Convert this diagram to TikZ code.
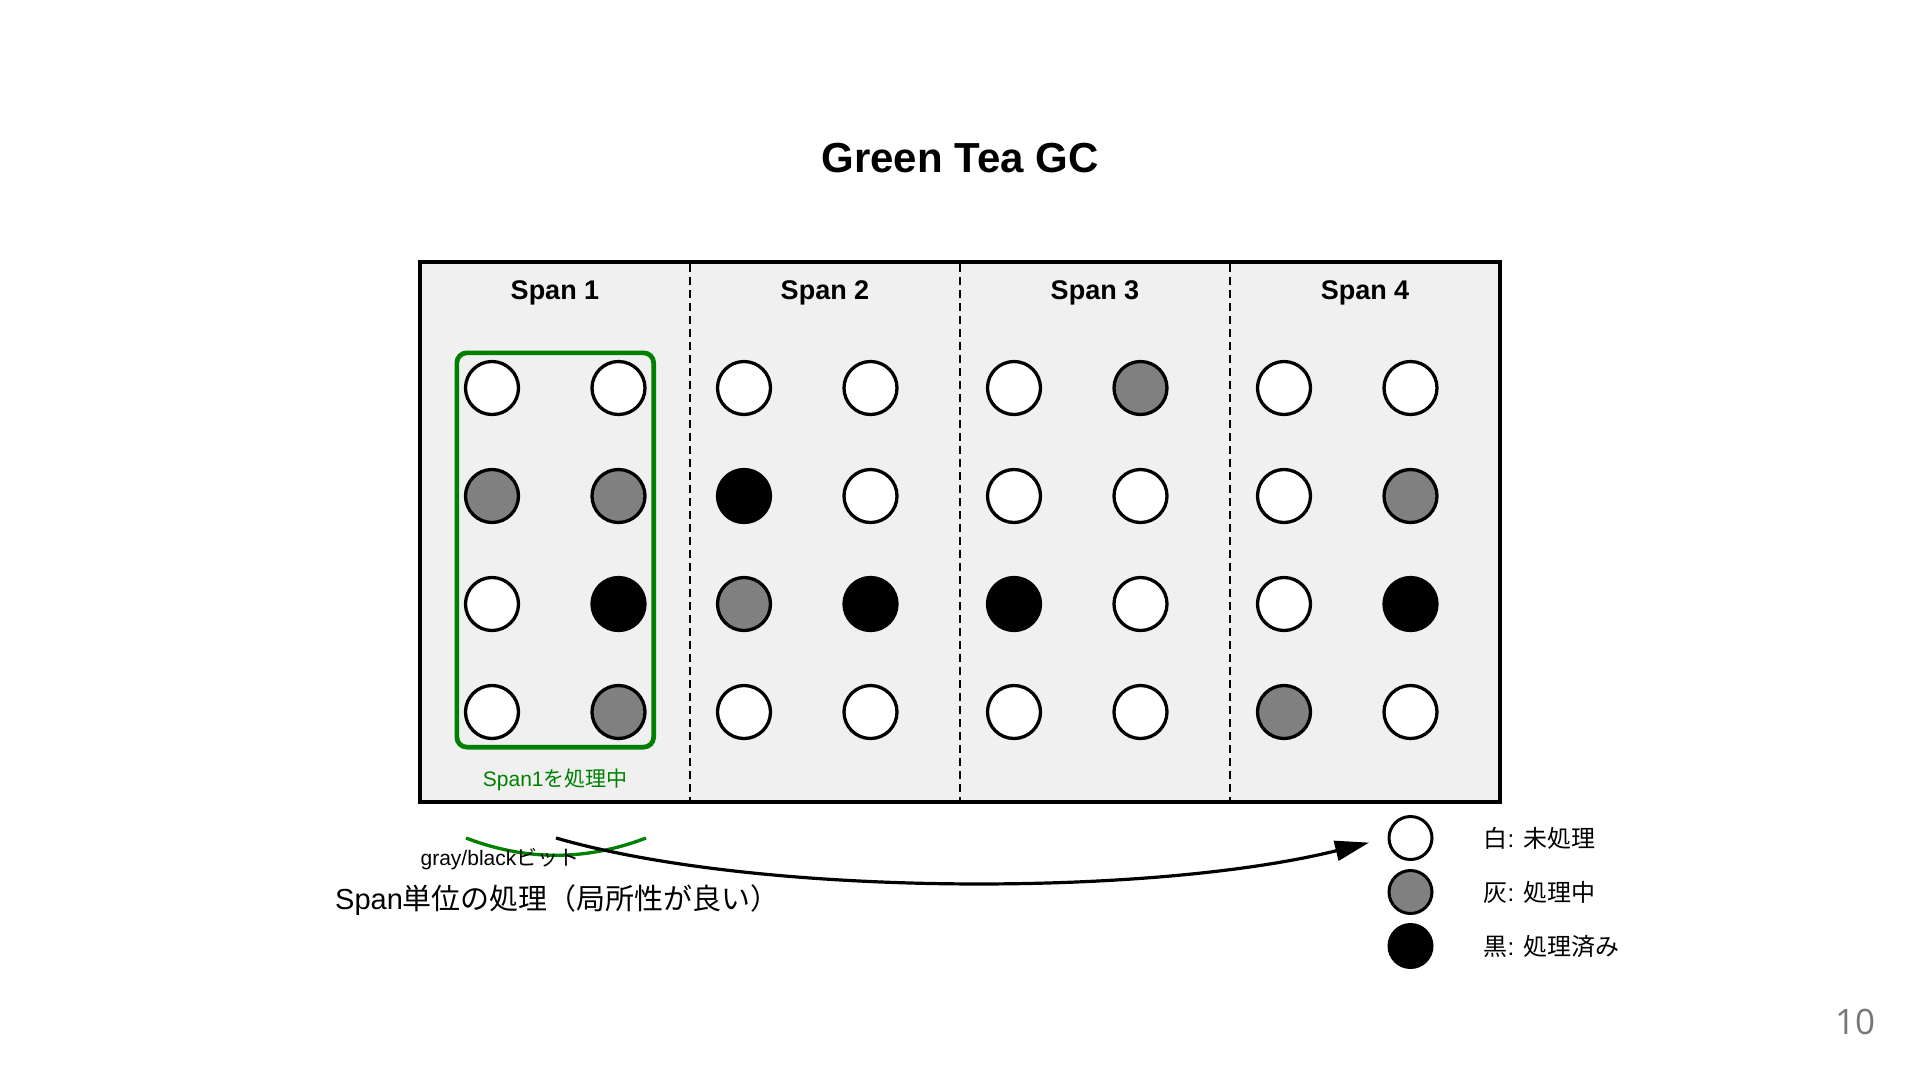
\documentclass[tikz,border=0pt]{standalone}
\usepackage{fontspec}
\setmainfont{Liberation Sans}
\newfontfamily\jp{Noto Sans CJK JP}
\newfontfamily\pagenumfont{Open Sans}
\usepackage{xcolor}
\usetikzlibrary{arrows.meta, positioning, fit}

\definecolor{spanbg}{HTML}{F0F0F0}
\definecolor{markgreen}{HTML}{008000}
\definecolor{objgray}{HTML}{808080}
\definecolor{pagegray}{HTML}{777777}

\newcommand{\fsz}[1]{\fontsize{#1pt}{#1pt}\selectfont}

\tikzset{
    obj/.style={circle, draw=black, line width=3.3pt, minimum size=53pt, inner sep=0pt},
    legobj/.style={circle, draw=black, line width=3pt, minimum size=43pt, inner sep=0pt},
    legtxt/.style={anchor=west, inner sep=0pt, font=\fsz{24}},
    activebox/.style={draw=markgreen, line width=4.7pt, rounded corners=10pt, inner sep=7pt},
}

\begin{document}
\begin{tikzpicture}[x=1pt, y=-1pt]
    \useasboundingbox (0,0) rectangle (1920,1080);
    \node[font=\fsz{42}\bfseries] (title) at (960,158) {Green Tea GC};

    % heap with four spans
    \draw[line width=3.3pt, fill=spanbg] (420,262) rectangle (1500,802);
    \foreach \x in {690,960,1230}
        \draw[line width=2pt, dash pattern=on 8pt off 5pt] (\x,264) -- (\x,800);
    \foreach \s in {1,...,4} {
        \node[font=\fsz{27}\bfseries] (span\s) at ({285+270*\s}, 293) {Span \s};
    }

    % objects: row by row, left and right column
    \foreach \s/\sx/\fills in {
        1/492/{white,white,objgray,objgray,white,black,white,objgray},
        2/744/{white,white,black,white,objgray,black,white,white},
        3/1014/{white,objgray,white,white,black,white,white,white},
        4/1284/{white,white,white,objgray,white,black,objgray,white}} {
        \foreach \f [count=\i from 0] in \fills {
            \pgfmathtruncatemacro{\row}{\i/2}
            \pgfmathtruncatemacro{\col}{mod(\i,2)}
            \node[obj, fill=\f] (obj\s-\i) at ({\sx+126.5*\col}, {388+108*\row}) {};
        }
    }

    \node[activebox, fit=(obj1-0)(obj1-7)] (active) {};
    \node[font=\fsz{21}, text=markgreen] (activelbl) at ([yshift=-30pt]active.south) {Span1{\jp を処理中}};

    % legend
    \node[legobj, fill=white] (legw) at (1410.5,838) {};
    \node[legobj, fill=objgray, below=8pt of legw] (legg) {};
    \node[legobj, fill=black, below=8pt of legg] (legb) {};
    \node[legtxt, right=50pt of legw] (legwtxt) {{\jp 白}: {\jp 未処理}};
    \node[legtxt, right=50pt of legg] (leggtxt) {{\jp 灰}: {\jp 処理中}};
    \node[legtxt, right=50pt of legb] (legbtxt) {{\jp 黒}: {\jp 処理済み}};

    % bits and arrow
    \draw[markgreen, line width=3.3pt] (466,838) .. controls (526,861) and (586,861) .. (646,838);
    \coordinate (bitsrc) at (556,838);
    \draw[line width=3.2pt, -{Triangle[length=34pt, width=20pt]}, shorten >=19pt]
        (bitsrc) .. controls (760,897) and (1150,897) .. (legw.west);
    \node[font=\fsz{21}] (bitlbl) at (500,859) {gray/black{\jp ビット}};
    \node[anchor=west, inner sep=0pt, font=\fsz{29}] (spannote) at (335,900) {Span{\jp 単位の処理（局所性が良い）}};

    \node[font=\pagenumfont\fsz{35}, text=pagegray] (pagenum) at (1855,1022) {10};
\end{tikzpicture}
\end{document}
